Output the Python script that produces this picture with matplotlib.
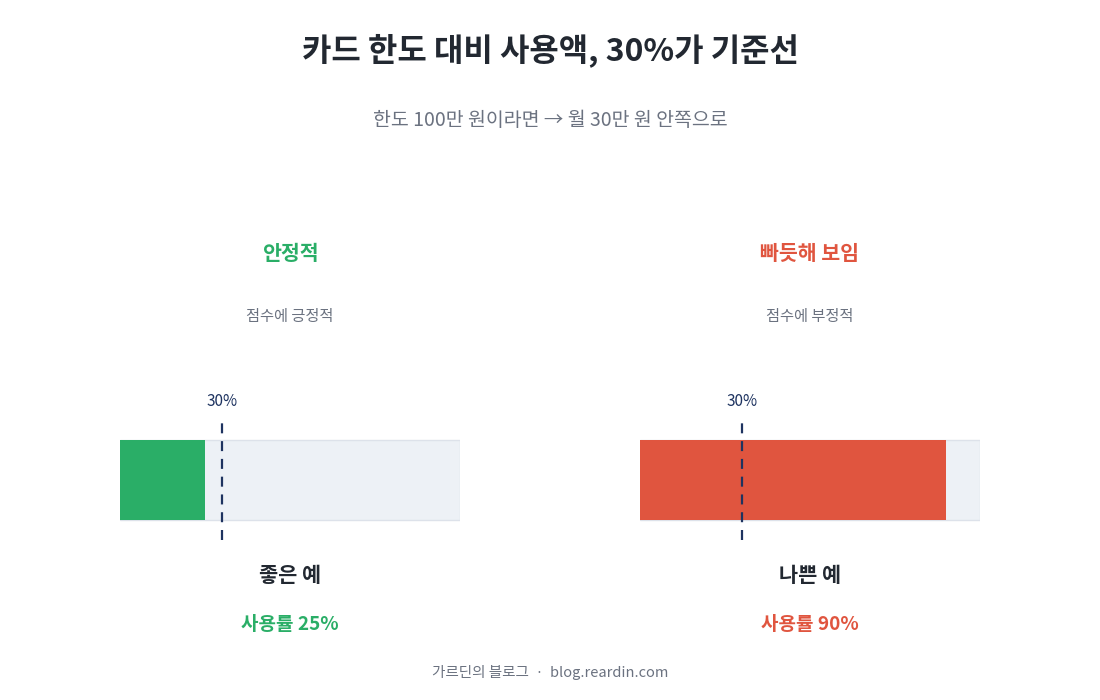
import matplotlib
matplotlib.use("Agg")
import matplotlib.pyplot as plt

plt.rcParams['font.family'] = ['Noto Sans CJK KR', 'DejaVu Sans']

# data
panels = ["좋은 예", "나쁜 예"]
usage = [25, 90]
threshold = 30
headings = ["안정적", "빠듯해 보임"]
notes = ["점수에 긍정적", "점수에 부정적"]
colors = ["#2aae67", "#e0553f"]

TRACK = "#edf1f6"
TRACK_EDGE = "#dde2ea"
NAVY = "#1e3360"
DARK = "#222831"
GRAY = "#6b7280"

W, H = 1100, 700
fig = plt.figure(figsize=(W / 100, H / 100), dpi=100)
fig.patch.set_facecolor("white")


def px(x, y):
    # pixel (top-left origin) -> figure fraction
    return x / W, 1 - y / H


fig.text(*px(550, 50), "카드 한도 대비 사용액, 30%가 기준선", ha="center", va="center",
         fontsize=23, fontweight="bold", color=DARK)
fig.text(*px(550, 120), "한도 100만 원이라면 → 월 30만 원 안쪽으로", ha="center", va="center",
         fontsize=14, color=GRAY)

lefts = [120, 640]
bar_w = 340
for i, left in enumerate(lefts):
    cx = left + bar_w / 2
    # axes spanning y 420..540 px, bar in 440..520
    ax = fig.add_axes([left / W, 1 - 540 / H, bar_w / W, 120 / H])
    ax.set_xlim(0, 100)
    ax.set_ylim(0, 120)
    ax.axis("off")
    ax.barh(60, 100, height=80, color=TRACK, edgecolor=TRACK_EDGE, linewidth=1)
    ax.barh(60, usage[i], height=80, color=colors[i], linewidth=0)
    ax.axvline(threshold, ymin=0, ymax=(120 - 1) / 120, color=NAVY, linewidth=1.6,
               linestyle=(0, (4.5, 3.5)))
    ax.text(threshold, 138, f"{threshold}%", ha="center", va="center",
            fontsize=11, color=NAVY, clip_on=False)

    fig.text(*px(cx, 254), headings[i], ha="center", va="center",
             fontsize=14.8, fontweight="bold", color=colors[i])
    fig.text(*px(cx, 316), notes[i], ha="center", va="center",
             fontsize=11, color=GRAY)
    fig.text(*px(cx, 575), panels[i], ha="center", va="center",
             fontsize=15, fontweight="bold", color=DARK)
    fig.text(*px(cx, 625), f"사용률 {usage[i]}%", ha="center", va="center",
             fontsize=13.7, fontweight="bold", color=colors[i])

fig.text(*px(550, 672), "가르딘의 블로그  ·  blog.reardin.com", ha="center", va="center",
         fontsize=10.5, color=GRAY)

fig.savefig("out.png", dpi=100, facecolor="white")
